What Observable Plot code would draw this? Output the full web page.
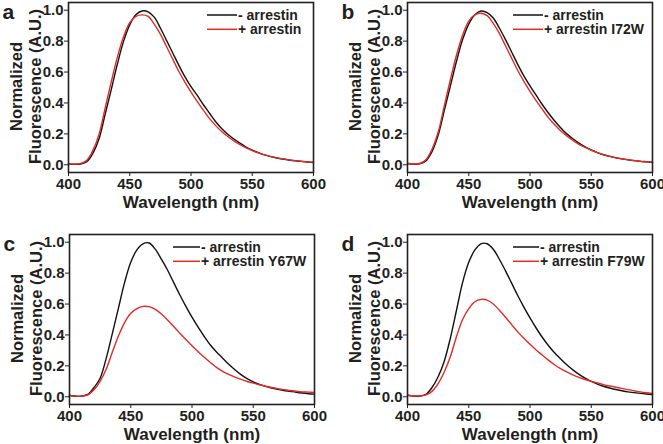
<!DOCTYPE html>
<html><head><meta charset="utf-8">
<script src="https://cdn.jsdelivr.net/npm/d3@7"></script>
<script src="https://cdn.jsdelivr.net/npm/@observablehq/plot@0.6"></script>
<style>
html,body{margin:0;padding:0;background:#fff;}
#fig{position:relative;width:663px;height:444px;overflow:hidden;background:#fff;}
#fig .panel{position:absolute;}
#legend{position:absolute;left:0;top:0;pointer-events:none;}
</style></head><body><div id="fig"></div>
<script>
// ---- data ----
const wavelength = [400,405,410,415,420,425,430,435,440,445,450,455,460,465,470,475,480,485,490,495,500,505,510,515,520,525,530,535,540,545,550,555,560,565,570,575,580,585,590,595,600];

const aMinus = [0.005,0.003,0.005,0.02,0.075,0.17,0.33,0.49,0.655,0.80,0.905,0.97,0.995,0.99,0.955,0.885,0.805,0.725,0.645,0.57,0.505,0.45,0.39,0.335,0.28,0.235,0.198,0.167,0.14,0.115,0.095,0.078,0.064,0.053,0.044,0.037,0.031,0.026,0.022,0.018,0.015];
const aPlus  = [0.005,0.004,0.008,0.03,0.095,0.20,0.37,0.54,0.70,0.83,0.92,0.96,0.97,0.96,0.91,0.845,0.765,0.685,0.605,0.535,0.47,0.41,0.355,0.30,0.255,0.215,0.183,0.155,0.13,0.11,0.092,0.077,0.064,0.054,0.045,0.038,0.032,0.027,0.023,0.019,0.016];
const bMinus = [0.008,0.004,0.006,0.025,0.085,0.19,0.35,0.51,0.67,0.81,0.91,0.97,0.995,0.985,0.95,0.885,0.81,0.73,0.65,0.575,0.51,0.45,0.39,0.335,0.285,0.24,0.2,0.168,0.14,0.116,0.096,0.079,0.065,0.054,0.045,0.038,0.032,0.027,0.022,0.019,0.016];
const bPlus  = [0.008,0.005,0.008,0.032,0.1,0.21,0.38,0.55,0.71,0.84,0.93,0.97,0.98,0.965,0.915,0.85,0.77,0.69,0.61,0.54,0.475,0.415,0.36,0.305,0.26,0.22,0.186,0.157,0.132,0.112,0.094,0.079,0.066,0.055,0.046,0.039,0.033,0.028,0.023,0.02,0.017];
const cMinus = [0.01,0.003,0.004,0.015,0.06,0.12,0.25,0.41,0.575,0.74,0.87,0.95,0.99,0.995,0.955,0.89,0.82,0.74,0.66,0.585,0.515,0.45,0.39,0.335,0.29,0.25,0.21,0.175,0.143,0.117,0.096,0.08,0.067,0.057,0.048,0.041,0.035,0.029,0.024,0.02,0.017];
const cPlus  = [0.008,0.004,0.005,0.012,0.045,0.10,0.18,0.29,0.395,0.48,0.54,0.57,0.585,0.583,0.565,0.535,0.497,0.455,0.412,0.37,0.33,0.292,0.256,0.222,0.19,0.165,0.145,0.127,0.112,0.099,0.088,0.078,0.068,0.06,0.053,0.046,0.041,0.036,0.032,0.03,0.028];
const dMinus = [0.01,0.004,0.004,0.015,0.06,0.13,0.23,0.38,0.56,0.74,0.87,0.95,0.99,0.99,0.955,0.89,0.815,0.735,0.655,0.58,0.51,0.445,0.385,0.332,0.285,0.245,0.207,0.174,0.145,0.12,0.099,0.082,0.068,0.057,0.047,0.039,0.032,0.027,0.022,0.018,0.015];
const dPlus  = [0.01,0.005,0.006,0.012,0.035,0.085,0.16,0.26,0.39,0.50,0.57,0.615,0.63,0.625,0.6,0.56,0.515,0.467,0.42,0.378,0.34,0.303,0.27,0.237,0.207,0.182,0.161,0.142,0.126,0.112,0.1,0.089,0.079,0.07,0.062,0.054,0.046,0.039,0.032,0.026,0.021];

const xTicks = [400, 450, 500, 550, 600];
const yTicks = [0, 0.2, 0.4, 0.6, 0.8, 1.0];
const panelLetters = ["a", "b", "c", "d"];
const minusLabel = "- arrestin";
const plusLabels = ["+ arrestin", "+ arrestin I72W", "+ arrestin Y67W", "+ arrestin F79W"];
const xLabel = "Wavelength (nm)";
const yLabel = "Normalized\nFluorescence (A.U.)";

// ---- drawing ----
const FONT = '"Liberation Sans", Arial, Helvetica, sans-serif';
const INK = "#231f20";
const BLACK = "#111111";
const RED = "#e42a24";

const fig = document.getElementById("fig");

function rows(values) { return wavelength.map((w, i) => ({w, v: values[i]})); }

function makePanel(minus, plus, letter) {
  return Plot.plot({
    width: 331, height: 222,
    marginLeft: 68, marginRight: 18, marginTop: 2, marginBottom: 50,
    style: {fontFamily: FONT, fontSize: "15px", fontWeight: "bold", color: INK, background: "transparent", overflow: "visible"},
    x: {domain: [400, 600], ticks: xTicks, tickSize: 4, tickPadding: 2, label: null},
    y: {domain: [-0.05, 1.05], ticks: yTicks, tickSize: 4, tickPadding: 1, tickFormat: d3.format(".1f"), label: null},
    marks: [
      Plot.line(rows(minus), {x: "w", y: "v", stroke: BLACK, strokeWidth: 1.4, curve: "catmull-rom"}),
      Plot.line(rows(plus), {x: "w", y: "v", stroke: RED, strokeWidth: 1.4, curve: "catmull-rom"}),
      Plot.frame({stroke: INK, strokeWidth: 1.6}),
      Plot.text([xLabel], {text: d => d, frameAnchor: "bottom", lineAnchor: "middle", textAnchor: "middle", dy: 30.5, fontSize: 17, fill: INK}),
      Plot.text([yLabel], {text: d => d, frameAnchor: "left", lineAnchor: "middle", textAnchor: "middle", rotate: -90, dx: -43, dy: -1, fontSize: 16.5, lineHeight: 1.15, fill: INK}),
      Plot.text([letter], {text: d => d, frameAnchor: "top-left", lineAnchor: "middle", textAnchor: "start", dx: -66, dy: 9.5, fontSize: 21, fill: INK})
    ]
  });
}

const panels = [
  {minus: aMinus, plus: aPlus, left: 0, top: 0},
  {minus: bMinus, plus: bPlus, left: 339, top: 0},
  {minus: cMinus, plus: cPlus, left: 1, top: 232},
  {minus: dMinus, plus: dPlus, left: 339, top: 232}
];

panels.forEach((p, i) => {
  const el = makePanel(p.minus, p.plus, panelLetters[i]);
  el.classList.add("panel");
  el.style.left = p.left + "px";
  el.style.top = p.top + "px";
  el.style.position = "absolute";
  el.style.maxWidth = "none";
  fig.appendChild(el);
});

// legends (HTML/SVG overlay, like Plot's own legends)
const legendPos = [
  {x1: 207, x2: 237, tx: 238, y: 15},
  {x1: 513, x2: 543, tx: 544, y: 15},
  {x1: 173, x2: 200, tx: 201, y: 247},
  {x1: 513, x2: 539, tx: 540, y: 247}
];
const ns = "http://www.w3.org/2000/svg";
const lg = document.createElementNS(ns, "svg");
lg.setAttribute("id", "legend");
lg.setAttribute("width", 663);
lg.setAttribute("height", 444);
lg.style.fontFamily = FONT;
lg.style.fontWeight = "bold";
lg.style.fontSize = "14px";
legendPos.forEach((L, i) => {
  [[minusLabel, BLACK, 0], [plusLabels[i], RED, 14.3]].forEach(([label, color, off]) => {
    const ln = document.createElementNS(ns, "line");
    ln.setAttribute("x1", L.x1); ln.setAttribute("x2", L.x2);
    ln.setAttribute("y1", L.y + off); ln.setAttribute("y2", L.y + off);
    ln.setAttribute("stroke", color); ln.setAttribute("stroke-width", 1.5);
    lg.appendChild(ln);
    const t = document.createElementNS(ns, "text");
    t.setAttribute("x", L.tx); t.setAttribute("y", L.y + off + 4.8);
    t.setAttribute("fill", INK);
    t.textContent = label;
    lg.appendChild(t);
  });
});
fig.appendChild(lg);
</script></body></html>
